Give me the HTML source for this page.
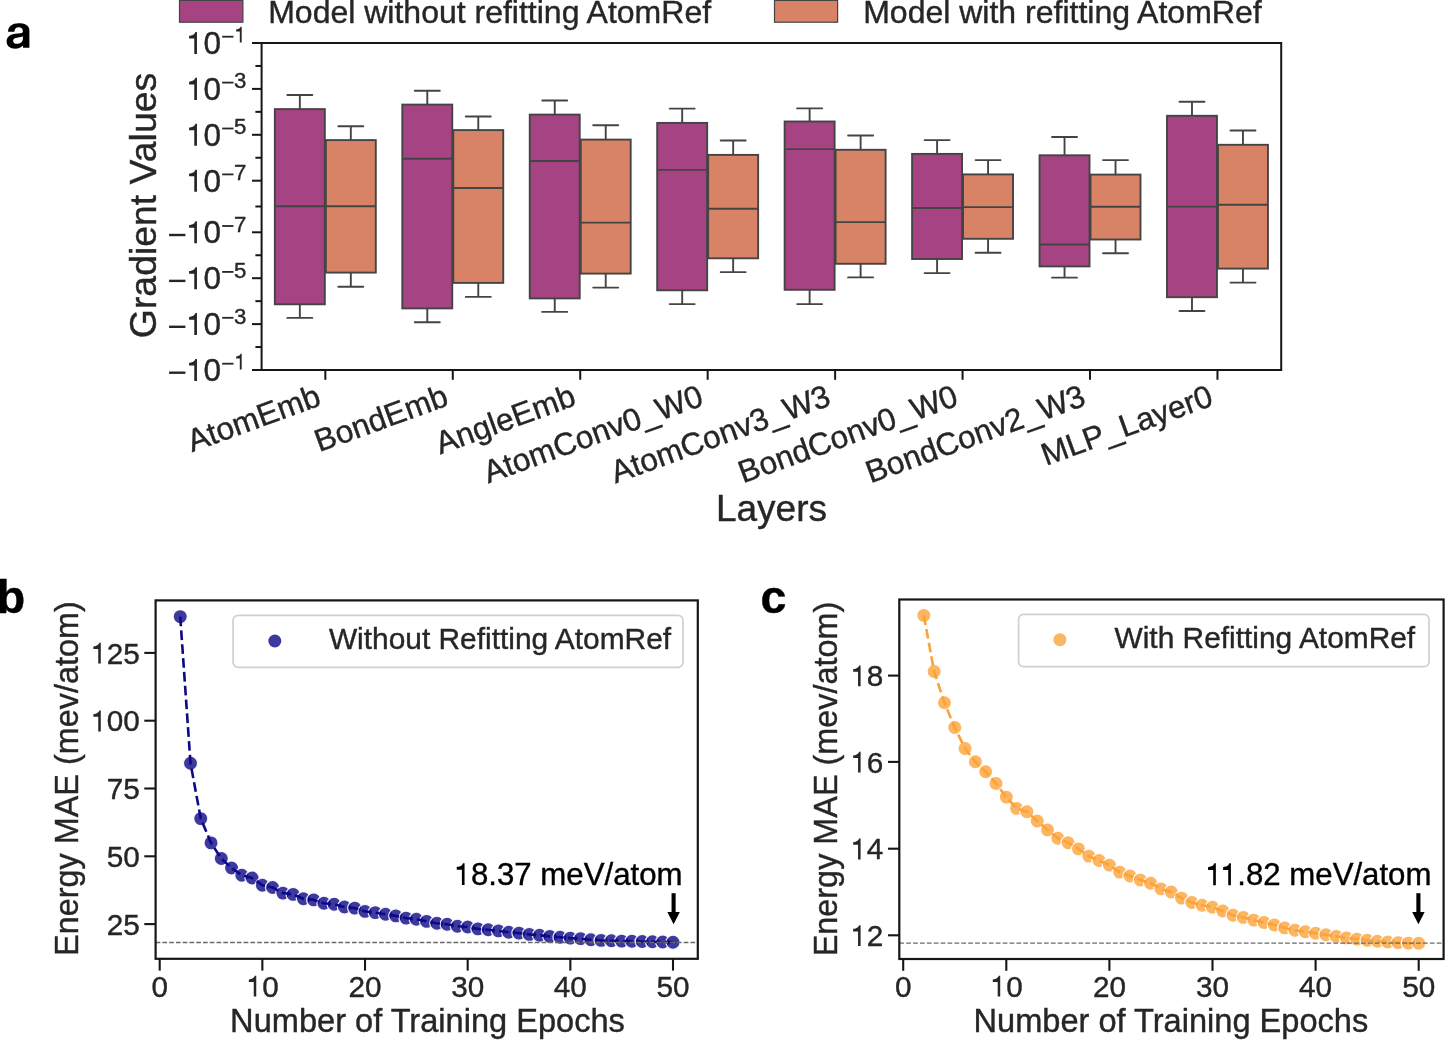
<!DOCTYPE html>
<html><head><meta charset="utf-8"><title>Figure</title>
<style>
html,body{margin:0;padding:0;background:#fff;width:1450px;height:1049px;overflow:hidden;}
svg{display:block;will-change:transform;}
text{font-family:"Liberation Sans",sans-serif;}
</style></head><body>
<svg width="1450" height="1049" viewBox="0 0 1450 1049">
<rect width="1450" height="1049" fill="#fff"/>
<rect x="179.5" y="0.4" width="63.4" height="21.8" fill="#a64483" stroke="#444" stroke-width="1.2"/>
<text x="268.2" y="22.7" font-size="32" fill="#262626" stroke="#262626" stroke-width="0.4">Model without refitting AtomRef</text>
<rect x="774.5" y="0.4" width="63.1" height="21.8" fill="#d98366" stroke="#444" stroke-width="1.2"/>
<text x="863.2" y="22.7" font-size="32" fill="#262626" stroke="#262626" stroke-width="0.4">Model with refitting AtomRef</text>
<line x1="299.84" y1="95" x2="299.84" y2="109.1" stroke="#444444" stroke-width="1.9"/>
<line x1="299.84" y1="304.3" x2="299.84" y2="317.9" stroke="#444444" stroke-width="1.9"/>
<line x1="287.34" y1="95" x2="312.33" y2="95" stroke="#444444" stroke-width="1.9" stroke-linecap="round"/>
<line x1="287.34" y1="317.9" x2="312.33" y2="317.9" stroke="#444444" stroke-width="1.9" stroke-linecap="round"/>
<rect x="274.85" y="109.1" width="49.96" height="195.2" fill="#a64483" stroke="#444444" stroke-width="1.9"/>
<line x1="274.85" y1="206.3" x2="324.82" y2="206.3" stroke="#444444" stroke-width="1.9"/>
<line x1="350.82" y1="126.2" x2="350.82" y2="140.1" stroke="#444444" stroke-width="1.9"/>
<line x1="350.82" y1="272.6" x2="350.82" y2="286.7" stroke="#444444" stroke-width="1.9"/>
<line x1="338.32" y1="126.2" x2="363.31" y2="126.2" stroke="#444444" stroke-width="1.9" stroke-linecap="round"/>
<line x1="338.32" y1="286.7" x2="363.31" y2="286.7" stroke="#444444" stroke-width="1.9" stroke-linecap="round"/>
<rect x="325.83" y="140.1" width="49.96" height="132.5" fill="#d98366" stroke="#444444" stroke-width="1.9"/>
<line x1="325.83" y1="206.3" x2="375.8" y2="206.3" stroke="#444444" stroke-width="1.9"/>
<line x1="427.29" y1="90.7" x2="427.29" y2="104.6" stroke="#444444" stroke-width="1.9"/>
<line x1="427.29" y1="308.4" x2="427.29" y2="322.2" stroke="#444444" stroke-width="1.9"/>
<line x1="414.79" y1="90.7" x2="439.78" y2="90.7" stroke="#444444" stroke-width="1.9" stroke-linecap="round"/>
<line x1="414.79" y1="322.2" x2="439.78" y2="322.2" stroke="#444444" stroke-width="1.9" stroke-linecap="round"/>
<rect x="402.3" y="104.6" width="49.96" height="203.8" fill="#a64483" stroke="#444444" stroke-width="1.9"/>
<line x1="402.3" y1="158.7" x2="452.27" y2="158.7" stroke="#444444" stroke-width="1.9"/>
<line x1="478.27" y1="116.5" x2="478.27" y2="130.1" stroke="#444444" stroke-width="1.9"/>
<line x1="478.27" y1="282.9" x2="478.27" y2="296.9" stroke="#444444" stroke-width="1.9"/>
<line x1="465.77" y1="116.5" x2="490.76" y2="116.5" stroke="#444444" stroke-width="1.9" stroke-linecap="round"/>
<line x1="465.77" y1="296.9" x2="490.76" y2="296.9" stroke="#444444" stroke-width="1.9" stroke-linecap="round"/>
<rect x="453.28" y="130.1" width="49.96" height="152.8" fill="#d98366" stroke="#444444" stroke-width="1.9"/>
<line x1="453.28" y1="188" x2="503.25" y2="188" stroke="#444444" stroke-width="1.9"/>
<line x1="554.74" y1="100.5" x2="554.74" y2="114.6" stroke="#444444" stroke-width="1.9"/>
<line x1="554.74" y1="298.4" x2="554.74" y2="311.9" stroke="#444444" stroke-width="1.9"/>
<line x1="542.24" y1="100.5" x2="567.23" y2="100.5" stroke="#444444" stroke-width="1.9" stroke-linecap="round"/>
<line x1="542.24" y1="311.9" x2="567.23" y2="311.9" stroke="#444444" stroke-width="1.9" stroke-linecap="round"/>
<rect x="529.75" y="114.6" width="49.96" height="183.8" fill="#a64483" stroke="#444444" stroke-width="1.9"/>
<line x1="529.75" y1="161" x2="579.72" y2="161" stroke="#444444" stroke-width="1.9"/>
<line x1="605.72" y1="125.3" x2="605.72" y2="139.6" stroke="#444444" stroke-width="1.9"/>
<line x1="605.72" y1="273.6" x2="605.72" y2="287.6" stroke="#444444" stroke-width="1.9"/>
<line x1="593.22" y1="125.3" x2="618.21" y2="125.3" stroke="#444444" stroke-width="1.9" stroke-linecap="round"/>
<line x1="593.22" y1="287.6" x2="618.21" y2="287.6" stroke="#444444" stroke-width="1.9" stroke-linecap="round"/>
<rect x="580.73" y="139.6" width="49.96" height="134" fill="#d98366" stroke="#444444" stroke-width="1.9"/>
<line x1="580.73" y1="222.6" x2="630.7" y2="222.6" stroke="#444444" stroke-width="1.9"/>
<line x1="682.18" y1="108.6" x2="682.18" y2="122.9" stroke="#444444" stroke-width="1.9"/>
<line x1="682.18" y1="290.3" x2="682.18" y2="304.1" stroke="#444444" stroke-width="1.9"/>
<line x1="669.69" y1="108.6" x2="694.68" y2="108.6" stroke="#444444" stroke-width="1.9" stroke-linecap="round"/>
<line x1="669.69" y1="304.1" x2="694.68" y2="304.1" stroke="#444444" stroke-width="1.9" stroke-linecap="round"/>
<rect x="657.2" y="122.9" width="49.96" height="167.4" fill="#a64483" stroke="#444444" stroke-width="1.9"/>
<line x1="657.2" y1="169.9" x2="707.17" y2="169.9" stroke="#444444" stroke-width="1.9"/>
<line x1="733.16" y1="140.5" x2="733.16" y2="154.9" stroke="#444444" stroke-width="1.9"/>
<line x1="733.16" y1="258.3" x2="733.16" y2="272.1" stroke="#444444" stroke-width="1.9"/>
<line x1="720.67" y1="140.5" x2="745.66" y2="140.5" stroke="#444444" stroke-width="1.9" stroke-linecap="round"/>
<line x1="720.67" y1="272.1" x2="745.66" y2="272.1" stroke="#444444" stroke-width="1.9" stroke-linecap="round"/>
<rect x="708.18" y="154.9" width="49.96" height="103.4" fill="#d98366" stroke="#444444" stroke-width="1.9"/>
<line x1="708.18" y1="208.7" x2="758.15" y2="208.7" stroke="#444444" stroke-width="1.9"/>
<line x1="809.63" y1="108.4" x2="809.63" y2="121.5" stroke="#444444" stroke-width="1.9"/>
<line x1="809.63" y1="289.8" x2="809.63" y2="304.1" stroke="#444444" stroke-width="1.9"/>
<line x1="797.14" y1="108.4" x2="822.13" y2="108.4" stroke="#444444" stroke-width="1.9" stroke-linecap="round"/>
<line x1="797.14" y1="304.1" x2="822.13" y2="304.1" stroke="#444444" stroke-width="1.9" stroke-linecap="round"/>
<rect x="784.65" y="121.5" width="49.96" height="168.3" fill="#a64483" stroke="#444444" stroke-width="1.9"/>
<line x1="784.65" y1="149.1" x2="834.62" y2="149.1" stroke="#444444" stroke-width="1.9"/>
<line x1="860.62" y1="135.5" x2="860.62" y2="149.8" stroke="#444444" stroke-width="1.9"/>
<line x1="860.62" y1="263.8" x2="860.62" y2="277.4" stroke="#444444" stroke-width="1.9"/>
<line x1="848.12" y1="135.5" x2="873.11" y2="135.5" stroke="#444444" stroke-width="1.9" stroke-linecap="round"/>
<line x1="848.12" y1="277.4" x2="873.11" y2="277.4" stroke="#444444" stroke-width="1.9" stroke-linecap="round"/>
<rect x="835.63" y="149.8" width="49.96" height="114" fill="#d98366" stroke="#444444" stroke-width="1.9"/>
<line x1="835.63" y1="222.1" x2="885.6" y2="222.1" stroke="#444444" stroke-width="1.9"/>
<line x1="937.09" y1="140.1" x2="937.09" y2="153.9" stroke="#444444" stroke-width="1.9"/>
<line x1="937.09" y1="259" x2="937.09" y2="273.1" stroke="#444444" stroke-width="1.9"/>
<line x1="924.59" y1="140.1" x2="949.58" y2="140.1" stroke="#444444" stroke-width="1.9" stroke-linecap="round"/>
<line x1="924.59" y1="273.1" x2="949.58" y2="273.1" stroke="#444444" stroke-width="1.9" stroke-linecap="round"/>
<rect x="912.1" y="153.9" width="49.96" height="105.1" fill="#a64483" stroke="#444444" stroke-width="1.9"/>
<line x1="912.1" y1="208" x2="962.07" y2="208" stroke="#444444" stroke-width="1.9"/>
<line x1="988.07" y1="160.1" x2="988.07" y2="174.4" stroke="#444444" stroke-width="1.9"/>
<line x1="988.07" y1="238.8" x2="988.07" y2="252.8" stroke="#444444" stroke-width="1.9"/>
<line x1="975.57" y1="160.1" x2="1000.56" y2="160.1" stroke="#444444" stroke-width="1.9" stroke-linecap="round"/>
<line x1="975.57" y1="252.8" x2="1000.56" y2="252.8" stroke="#444444" stroke-width="1.9" stroke-linecap="round"/>
<rect x="963.08" y="174.4" width="49.96" height="64.4" fill="#d98366" stroke="#444444" stroke-width="1.9"/>
<line x1="963.08" y1="207.1" x2="1013.05" y2="207.1" stroke="#444444" stroke-width="1.9"/>
<line x1="1064.54" y1="137" x2="1064.54" y2="155.3" stroke="#444444" stroke-width="1.9"/>
<line x1="1064.54" y1="266.4" x2="1064.54" y2="277.6" stroke="#444444" stroke-width="1.9"/>
<line x1="1052.04" y1="137" x2="1077.03" y2="137" stroke="#444444" stroke-width="1.9" stroke-linecap="round"/>
<line x1="1052.04" y1="277.6" x2="1077.03" y2="277.6" stroke="#444444" stroke-width="1.9" stroke-linecap="round"/>
<rect x="1039.55" y="155.3" width="49.96" height="111.1" fill="#a64483" stroke="#444444" stroke-width="1.9"/>
<line x1="1039.55" y1="244.5" x2="1089.52" y2="244.5" stroke="#444444" stroke-width="1.9"/>
<line x1="1115.52" y1="160.1" x2="1115.52" y2="174.6" stroke="#444444" stroke-width="1.9"/>
<line x1="1115.52" y1="239.5" x2="1115.52" y2="253.3" stroke="#444444" stroke-width="1.9"/>
<line x1="1103.02" y1="160.1" x2="1128.01" y2="160.1" stroke="#444444" stroke-width="1.9" stroke-linecap="round"/>
<line x1="1103.02" y1="253.3" x2="1128.01" y2="253.3" stroke="#444444" stroke-width="1.9" stroke-linecap="round"/>
<rect x="1090.53" y="174.6" width="49.96" height="64.9" fill="#d98366" stroke="#444444" stroke-width="1.9"/>
<line x1="1090.53" y1="206.8" x2="1140.5" y2="206.8" stroke="#444444" stroke-width="1.9"/>
<line x1="1191.98" y1="101.7" x2="1191.98" y2="115.8" stroke="#444444" stroke-width="1.9"/>
<line x1="1191.98" y1="297.2" x2="1191.98" y2="311" stroke="#444444" stroke-width="1.9"/>
<line x1="1179.49" y1="101.7" x2="1204.48" y2="101.7" stroke="#444444" stroke-width="1.9" stroke-linecap="round"/>
<line x1="1179.49" y1="311" x2="1204.48" y2="311" stroke="#444444" stroke-width="1.9" stroke-linecap="round"/>
<rect x="1167" y="115.8" width="49.96" height="181.4" fill="#a64483" stroke="#444444" stroke-width="1.9"/>
<line x1="1167" y1="206.6" x2="1216.97" y2="206.6" stroke="#444444" stroke-width="1.9"/>
<line x1="1242.96" y1="130.5" x2="1242.96" y2="144.8" stroke="#444444" stroke-width="1.9"/>
<line x1="1242.96" y1="268.6" x2="1242.96" y2="282.6" stroke="#444444" stroke-width="1.9"/>
<line x1="1230.47" y1="130.5" x2="1255.46" y2="130.5" stroke="#444444" stroke-width="1.9" stroke-linecap="round"/>
<line x1="1230.47" y1="282.6" x2="1255.46" y2="282.6" stroke="#444444" stroke-width="1.9" stroke-linecap="round"/>
<rect x="1217.98" y="144.8" width="49.96" height="123.8" fill="#d98366" stroke="#444444" stroke-width="1.9"/>
<line x1="1217.98" y1="204.7" x2="1267.95" y2="204.7" stroke="#444444" stroke-width="1.9"/>
<rect x="261.6" y="43" width="1019.6" height="327" fill="none" stroke="#161616" stroke-width="2" stroke-linejoin="miter"/>
<line x1="252" y1="43" x2="261.6" y2="43" stroke="#161616" stroke-width="2"/>
<path d="M0.351 0L0.351 0.70L0.300 0.70C0.283 0.640 0.235 0.592 0.101 0.578L0.101 0.490L0.266 0.490L0.266 0Z" transform="translate(185.9 54) scale(31.5 -31.5)" fill="#262626"/>
<text x="203.42" y="54" font-size="31.5" fill="#262626" stroke="#262626" stroke-width="0.4">0</text>
<rect x="222.2" y="35.8" width="11.3" height="1.8" fill="#262626"/>
<path d="M0.351 0L0.351 0.70L0.300 0.70C0.283 0.640 0.235 0.592 0.101 0.578L0.101 0.490L0.266 0.490L0.266 0Z" transform="translate(233.9 42.4) scale(22.2 -22.2)" fill="#262626"/>
<line x1="252" y1="370" x2="261.6" y2="370" stroke="#161616" stroke-width="2"/>
<rect x="169.1" y="371.5" width="16.3" height="2.4" fill="#262626"/>
<path d="M0.351 0L0.351 0.70L0.300 0.70C0.283 0.640 0.235 0.592 0.101 0.578L0.101 0.490L0.266 0.490L0.266 0Z" transform="translate(185.9 381) scale(31.5 -31.5)" fill="#262626"/>
<text x="203.42" y="381" font-size="31.5" fill="#262626" stroke="#262626" stroke-width="0.4">0</text>
<rect x="222.2" y="362.8" width="11.3" height="1.8" fill="#262626"/>
<path d="M0.351 0L0.351 0.70L0.300 0.70C0.283 0.640 0.235 0.592 0.101 0.578L0.101 0.490L0.266 0.490L0.266 0Z" transform="translate(233.9 369.4) scale(22.2 -22.2)" fill="#262626"/>
<line x1="252" y1="88.9" x2="261.6" y2="88.9" stroke="#161616" stroke-width="2"/>
<path d="M0.351 0L0.351 0.70L0.300 0.70C0.283 0.640 0.235 0.592 0.101 0.578L0.101 0.490L0.266 0.490L0.266 0Z" transform="translate(185.9 99.9) scale(31.5 -31.5)" fill="#262626"/>
<text x="203.42" y="99.9" font-size="31.5" fill="#262626" stroke="#262626" stroke-width="0.4">0</text>
<rect x="222.2" y="81.7" width="11.3" height="1.8" fill="#262626"/>
<text x="233.9" y="88.3" font-size="22.2" fill="#262626" stroke="#262626" stroke-width="0.4">3</text>
<line x1="252" y1="324.1" x2="261.6" y2="324.1" stroke="#161616" stroke-width="2"/>
<rect x="169.1" y="325.6" width="16.3" height="2.4" fill="#262626"/>
<path d="M0.351 0L0.351 0.70L0.300 0.70C0.283 0.640 0.235 0.592 0.101 0.578L0.101 0.490L0.266 0.490L0.266 0Z" transform="translate(185.9 335.1) scale(31.5 -31.5)" fill="#262626"/>
<text x="203.42" y="335.1" font-size="31.5" fill="#262626" stroke="#262626" stroke-width="0.4">0</text>
<rect x="222.2" y="316.9" width="11.3" height="1.8" fill="#262626"/>
<text x="233.9" y="323.5" font-size="22.2" fill="#262626" stroke="#262626" stroke-width="0.4">3</text>
<line x1="252" y1="134.8" x2="261.6" y2="134.8" stroke="#161616" stroke-width="2"/>
<path d="M0.351 0L0.351 0.70L0.300 0.70C0.283 0.640 0.235 0.592 0.101 0.578L0.101 0.490L0.266 0.490L0.266 0Z" transform="translate(185.9 145.8) scale(31.5 -31.5)" fill="#262626"/>
<text x="203.42" y="145.8" font-size="31.5" fill="#262626" stroke="#262626" stroke-width="0.4">0</text>
<rect x="222.2" y="127.6" width="11.3" height="1.8" fill="#262626"/>
<text x="233.9" y="134.2" font-size="22.2" fill="#262626" stroke="#262626" stroke-width="0.4">5</text>
<line x1="252" y1="278.2" x2="261.6" y2="278.2" stroke="#161616" stroke-width="2"/>
<rect x="169.1" y="279.7" width="16.3" height="2.4" fill="#262626"/>
<path d="M0.351 0L0.351 0.70L0.300 0.70C0.283 0.640 0.235 0.592 0.101 0.578L0.101 0.490L0.266 0.490L0.266 0Z" transform="translate(185.9 289.2) scale(31.5 -31.5)" fill="#262626"/>
<text x="203.42" y="289.2" font-size="31.5" fill="#262626" stroke="#262626" stroke-width="0.4">0</text>
<rect x="222.2" y="271" width="11.3" height="1.8" fill="#262626"/>
<text x="233.9" y="277.6" font-size="22.2" fill="#262626" stroke="#262626" stroke-width="0.4">5</text>
<line x1="252" y1="180.7" x2="261.6" y2="180.7" stroke="#161616" stroke-width="2"/>
<path d="M0.351 0L0.351 0.70L0.300 0.70C0.283 0.640 0.235 0.592 0.101 0.578L0.101 0.490L0.266 0.490L0.266 0Z" transform="translate(185.9 191.7) scale(31.5 -31.5)" fill="#262626"/>
<text x="203.42" y="191.7" font-size="31.5" fill="#262626" stroke="#262626" stroke-width="0.4">0</text>
<rect x="222.2" y="173.5" width="11.3" height="1.8" fill="#262626"/>
<text x="233.9" y="180.1" font-size="22.2" fill="#262626" stroke="#262626" stroke-width="0.4">7</text>
<line x1="252" y1="232.3" x2="261.6" y2="232.3" stroke="#161616" stroke-width="2"/>
<rect x="169.1" y="233.8" width="16.3" height="2.4" fill="#262626"/>
<path d="M0.351 0L0.351 0.70L0.300 0.70C0.283 0.640 0.235 0.592 0.101 0.578L0.101 0.490L0.266 0.490L0.266 0Z" transform="translate(185.9 243.3) scale(31.5 -31.5)" fill="#262626"/>
<text x="203.42" y="243.3" font-size="31.5" fill="#262626" stroke="#262626" stroke-width="0.4">0</text>
<rect x="222.2" y="225.1" width="11.3" height="1.8" fill="#262626"/>
<text x="233.9" y="231.7" font-size="22.2" fill="#262626" stroke="#262626" stroke-width="0.4">7</text>
<line x1="255.4" y1="65.95" x2="261.6" y2="65.95" stroke="#161616" stroke-width="2"/>
<line x1="255.4" y1="111.85" x2="261.6" y2="111.85" stroke="#161616" stroke-width="2"/>
<line x1="255.4" y1="157.75" x2="261.6" y2="157.75" stroke="#161616" stroke-width="2"/>
<line x1="255.4" y1="206.5" x2="261.6" y2="206.5" stroke="#161616" stroke-width="2"/>
<line x1="255.4" y1="255.25" x2="261.6" y2="255.25" stroke="#161616" stroke-width="2"/>
<line x1="255.4" y1="301.15" x2="261.6" y2="301.15" stroke="#161616" stroke-width="2"/>
<line x1="255.4" y1="347.05" x2="261.6" y2="347.05" stroke="#161616" stroke-width="2"/>
<line x1="325.33" y1="370" x2="325.33" y2="379.8" stroke="#161616" stroke-width="2"/>
<text x="322.63" y="404.6" font-size="31.7" fill="#262626" text-anchor="end" transform="rotate(-20 322.63 404.6)" stroke="#262626" stroke-width="0.4">AtomEmb</text>
<line x1="452.78" y1="370" x2="452.78" y2="379.8" stroke="#161616" stroke-width="2"/>
<text x="450.08" y="404.6" font-size="31.7" fill="#262626" text-anchor="end" transform="rotate(-20 450.08 404.6)" stroke="#262626" stroke-width="0.4">BondEmb</text>
<line x1="580.23" y1="370" x2="580.23" y2="379.8" stroke="#161616" stroke-width="2"/>
<text x="577.52" y="404.6" font-size="31.7" fill="#262626" text-anchor="end" transform="rotate(-20 577.52 404.6)" stroke="#262626" stroke-width="0.4">AngleEmb</text>
<line x1="707.67" y1="370" x2="707.67" y2="379.8" stroke="#161616" stroke-width="2"/>
<text x="704.97" y="404.6" font-size="31.7" fill="#262626" text-anchor="end" transform="rotate(-20 704.97 404.6)" stroke="#262626" stroke-width="0.4">AtomConv0_W0</text>
<line x1="835.12" y1="370" x2="835.12" y2="379.8" stroke="#161616" stroke-width="2"/>
<text x="832.42" y="404.6" font-size="31.7" fill="#262626" text-anchor="end" transform="rotate(-20 832.42 404.6)" stroke="#262626" stroke-width="0.4">AtomConv3_W3</text>
<line x1="962.58" y1="370" x2="962.58" y2="379.8" stroke="#161616" stroke-width="2"/>
<text x="959.88" y="404.6" font-size="31.7" fill="#262626" text-anchor="end" transform="rotate(-20 959.88 404.6)" stroke="#262626" stroke-width="0.4">BondConv0_W0</text>
<line x1="1090.03" y1="370" x2="1090.03" y2="379.8" stroke="#161616" stroke-width="2"/>
<text x="1087.33" y="404.6" font-size="31.7" fill="#262626" text-anchor="end" transform="rotate(-20 1087.33 404.6)" stroke="#262626" stroke-width="0.4">BondConv2_W3</text>
<line x1="1217.47" y1="370" x2="1217.47" y2="379.8" stroke="#161616" stroke-width="2"/>
<text x="1214.77" y="404.6" font-size="31.7" fill="#262626" text-anchor="end" transform="rotate(-20 1214.77 404.6)" stroke="#262626" stroke-width="0.4">MLP_Layer0</text>
<text x="771.5" y="520.9" font-size="37" fill="#262626" text-anchor="middle" stroke="#262626" stroke-width="0.4">Layers</text>
<text x="156" y="205.5" font-size="37.4" fill="#262626" text-anchor="middle" transform="rotate(-90 156 205.5)" stroke="#262626" stroke-width="0.4">Gradient Values</text>
<path fill="#000" fill-rule="evenodd" d="M29.4 47.8L23 47.8L22.9 45.6C21.2 47.6 18.6 48.7 15.2 48.7C10 48.7 6.6 45.9 6.6 41.5C6.6 36.4 10.6 34.4 15.5 33.8L20.4 33.2C22.1 33 22.9 32.5 22.9 31.2C22.9 28.8 21.1 27.3 18.6 27.3C15.9 27.3 14.6 28.9 14.4 31.8L8 31.8C8.2 26.1 12.5 23.2 18.6 23.2C24 23.2 29.4 24.8 29.4 30.5ZM22.9 36.3C21.8 36.9 19.9 37.1 17.9 37.4C14.9 37.8 13.1 38.6 13.1 40.7C13.1 42.6 14.6 43.8 16.7 43.8C20.2 43.8 22.9 41.8 22.9 38.4Z"/>
<circle cx="180.23" cy="616.6" r="7.1" fill="#0d0887" fill-opacity="0.8" stroke="#fff" stroke-opacity="0.9" stroke-width="1.3"/>
<circle cx="190.5" cy="763.2" r="7.1" fill="#0d0887" fill-opacity="0.8" stroke="#fff" stroke-opacity="0.9" stroke-width="1.3"/>
<circle cx="200.76" cy="818.6" r="7.1" fill="#0d0887" fill-opacity="0.8" stroke="#fff" stroke-opacity="0.9" stroke-width="1.3"/>
<circle cx="211.03" cy="842.9" r="7.1" fill="#0d0887" fill-opacity="0.8" stroke="#fff" stroke-opacity="0.9" stroke-width="1.3"/>
<circle cx="221.3" cy="858.5" r="7.1" fill="#0d0887" fill-opacity="0.8" stroke="#fff" stroke-opacity="0.9" stroke-width="1.3"/>
<circle cx="231.56" cy="868" r="7.1" fill="#0d0887" fill-opacity="0.8" stroke="#fff" stroke-opacity="0.9" stroke-width="1.3"/>
<circle cx="241.83" cy="875.2" r="7.1" fill="#0d0887" fill-opacity="0.8" stroke="#fff" stroke-opacity="0.9" stroke-width="1.3"/>
<circle cx="252.09" cy="878" r="7.1" fill="#0d0887" fill-opacity="0.8" stroke="#fff" stroke-opacity="0.9" stroke-width="1.3"/>
<circle cx="262.36" cy="885.2" r="7.1" fill="#0d0887" fill-opacity="0.8" stroke="#fff" stroke-opacity="0.9" stroke-width="1.3"/>
<circle cx="272.63" cy="887.5" r="7.1" fill="#0d0887" fill-opacity="0.8" stroke="#fff" stroke-opacity="0.9" stroke-width="1.3"/>
<circle cx="282.89" cy="893.1" r="7.1" fill="#0d0887" fill-opacity="0.8" stroke="#fff" stroke-opacity="0.9" stroke-width="1.3"/>
<circle cx="293.16" cy="894.4" r="7.1" fill="#0d0887" fill-opacity="0.8" stroke="#fff" stroke-opacity="0.9" stroke-width="1.3"/>
<circle cx="303.42" cy="898.8" r="7.1" fill="#0d0887" fill-opacity="0.8" stroke="#fff" stroke-opacity="0.9" stroke-width="1.3"/>
<circle cx="313.69" cy="899.9" r="7.1" fill="#0d0887" fill-opacity="0.8" stroke="#fff" stroke-opacity="0.9" stroke-width="1.3"/>
<circle cx="323.96" cy="903.2" r="7.1" fill="#0d0887" fill-opacity="0.8" stroke="#fff" stroke-opacity="0.9" stroke-width="1.3"/>
<circle cx="334.22" cy="904.3" r="7.1" fill="#0d0887" fill-opacity="0.8" stroke="#fff" stroke-opacity="0.9" stroke-width="1.3"/>
<circle cx="344.49" cy="907" r="7.1" fill="#0d0887" fill-opacity="0.8" stroke="#fff" stroke-opacity="0.9" stroke-width="1.3"/>
<circle cx="354.75" cy="908.1" r="7.1" fill="#0d0887" fill-opacity="0.8" stroke="#fff" stroke-opacity="0.9" stroke-width="1.3"/>
<circle cx="365.02" cy="911.4" r="7.1" fill="#0d0887" fill-opacity="0.8" stroke="#fff" stroke-opacity="0.9" stroke-width="1.3"/>
<circle cx="375.29" cy="912.6" r="7.1" fill="#0d0887" fill-opacity="0.8" stroke="#fff" stroke-opacity="0.9" stroke-width="1.3"/>
<circle cx="385.55" cy="914.2" r="7.1" fill="#0d0887" fill-opacity="0.8" stroke="#fff" stroke-opacity="0.9" stroke-width="1.3"/>
<circle cx="395.82" cy="915.9" r="7.1" fill="#0d0887" fill-opacity="0.8" stroke="#fff" stroke-opacity="0.9" stroke-width="1.3"/>
<circle cx="406.08" cy="918.1" r="7.1" fill="#0d0887" fill-opacity="0.8" stroke="#fff" stroke-opacity="0.9" stroke-width="1.3"/>
<circle cx="416.35" cy="919.2" r="7.1" fill="#0d0887" fill-opacity="0.8" stroke="#fff" stroke-opacity="0.9" stroke-width="1.3"/>
<circle cx="426.62" cy="921.4" r="7.1" fill="#0d0887" fill-opacity="0.8" stroke="#fff" stroke-opacity="0.9" stroke-width="1.3"/>
<circle cx="436.88" cy="923.3" r="7.1" fill="#0d0887" fill-opacity="0.8" stroke="#fff" stroke-opacity="0.9" stroke-width="1.3"/>
<circle cx="447.15" cy="924.3" r="7.1" fill="#0d0887" fill-opacity="0.8" stroke="#fff" stroke-opacity="0.9" stroke-width="1.3"/>
<circle cx="457.41" cy="926.3" r="7.1" fill="#0d0887" fill-opacity="0.8" stroke="#fff" stroke-opacity="0.9" stroke-width="1.3"/>
<circle cx="467.68" cy="927" r="7.1" fill="#0d0887" fill-opacity="0.8" stroke="#fff" stroke-opacity="0.9" stroke-width="1.3"/>
<circle cx="477.95" cy="928.9" r="7.1" fill="#0d0887" fill-opacity="0.8" stroke="#fff" stroke-opacity="0.9" stroke-width="1.3"/>
<circle cx="488.21" cy="929.8" r="7.1" fill="#0d0887" fill-opacity="0.8" stroke="#fff" stroke-opacity="0.9" stroke-width="1.3"/>
<circle cx="498.48" cy="930.9" r="7.1" fill="#0d0887" fill-opacity="0.8" stroke="#fff" stroke-opacity="0.9" stroke-width="1.3"/>
<circle cx="508.74" cy="932.2" r="7.1" fill="#0d0887" fill-opacity="0.8" stroke="#fff" stroke-opacity="0.9" stroke-width="1.3"/>
<circle cx="519.01" cy="933.1" r="7.1" fill="#0d0887" fill-opacity="0.8" stroke="#fff" stroke-opacity="0.9" stroke-width="1.3"/>
<circle cx="529.28" cy="934.4" r="7.1" fill="#0d0887" fill-opacity="0.8" stroke="#fff" stroke-opacity="0.9" stroke-width="1.3"/>
<circle cx="539.54" cy="935.3" r="7.1" fill="#0d0887" fill-opacity="0.8" stroke="#fff" stroke-opacity="0.9" stroke-width="1.3"/>
<circle cx="549.81" cy="936.4" r="7.1" fill="#0d0887" fill-opacity="0.8" stroke="#fff" stroke-opacity="0.9" stroke-width="1.3"/>
<circle cx="560.07" cy="937.2" r="7.1" fill="#0d0887" fill-opacity="0.8" stroke="#fff" stroke-opacity="0.9" stroke-width="1.3"/>
<circle cx="570.34" cy="938.1" r="7.1" fill="#0d0887" fill-opacity="0.8" stroke="#fff" stroke-opacity="0.9" stroke-width="1.3"/>
<circle cx="580.61" cy="938.6" r="7.1" fill="#0d0887" fill-opacity="0.8" stroke="#fff" stroke-opacity="0.9" stroke-width="1.3"/>
<circle cx="590.87" cy="939.7" r="7.1" fill="#0d0887" fill-opacity="0.8" stroke="#fff" stroke-opacity="0.9" stroke-width="1.3"/>
<circle cx="601.14" cy="940.4" r="7.1" fill="#0d0887" fill-opacity="0.8" stroke="#fff" stroke-opacity="0.9" stroke-width="1.3"/>
<circle cx="611.4" cy="940.7" r="7.1" fill="#0d0887" fill-opacity="0.8" stroke="#fff" stroke-opacity="0.9" stroke-width="1.3"/>
<circle cx="621.67" cy="941.1" r="7.1" fill="#0d0887" fill-opacity="0.8" stroke="#fff" stroke-opacity="0.9" stroke-width="1.3"/>
<circle cx="631.94" cy="941.3" r="7.1" fill="#0d0887" fill-opacity="0.8" stroke="#fff" stroke-opacity="0.9" stroke-width="1.3"/>
<circle cx="642.2" cy="941.5" r="7.1" fill="#0d0887" fill-opacity="0.8" stroke="#fff" stroke-opacity="0.9" stroke-width="1.3"/>
<circle cx="652.47" cy="941.8" r="7.1" fill="#0d0887" fill-opacity="0.8" stroke="#fff" stroke-opacity="0.9" stroke-width="1.3"/>
<circle cx="662.73" cy="942" r="7.1" fill="#0d0887" fill-opacity="0.8" stroke="#fff" stroke-opacity="0.9" stroke-width="1.3"/>
<circle cx="673" cy="942.3" r="7.1" fill="#0d0887" fill-opacity="0.8" stroke="#fff" stroke-opacity="0.9" stroke-width="1.3"/>
<polyline points="180.23,616.6 190.5,763.2 200.76,818.6 211.03,842.9 221.3,858.5 231.56,868 241.83,875.2 252.09,878 262.36,885.2 272.63,887.5 282.89,893.1 293.16,894.4 303.42,898.8 313.69,899.9 323.96,903.2 334.22,904.3 344.49,907 354.75,908.1 365.02,911.4 375.29,912.6 385.55,914.2 395.82,915.9 406.08,918.1 416.35,919.2 426.62,921.4 436.88,923.3 447.15,924.3 457.41,926.3 467.68,927 477.95,928.9 488.21,929.8 498.48,930.9 508.74,932.2 519.01,933.1 529.28,934.4 539.54,935.3 549.81,936.4 560.07,937.2 570.34,938.1 580.61,938.6 590.87,939.7 601.14,940.4 611.4,940.7 621.67,941.1 631.94,941.3 642.2,941.5 652.47,941.8 662.73,942 673,942.3" fill="none" stroke="#0d0887" stroke-width="2.6" stroke-dasharray="9.68 4.18"/>
<line x1="155.6" y1="942.5" x2="697.8" y2="942.5" stroke="#6a6a6a" stroke-width="1.3" stroke-dasharray="4.7 2.07"/>
<rect x="155.6" y="600.4" width="542.2" height="358.4" fill="none" stroke="#161616" stroke-width="2.2"/>
<line x1="144.3" y1="924.1" x2="155.6" y2="924.1" stroke="#161616" stroke-width="2.1"/>
<text x="106.86" y="934.8" font-size="29.7" fill="#262626" stroke="#262626" stroke-width="0.4">25</text>
<line x1="144.3" y1="856.3" x2="155.6" y2="856.3" stroke="#161616" stroke-width="2.1"/>
<text x="106.86" y="867" font-size="29.7" fill="#262626" stroke="#262626" stroke-width="0.4">50</text>
<line x1="144.3" y1="788.5" x2="155.6" y2="788.5" stroke="#161616" stroke-width="2.1"/>
<text x="106.86" y="799.2" font-size="29.7" fill="#262626" stroke="#262626" stroke-width="0.4">75</text>
<line x1="144.3" y1="720.7" x2="155.6" y2="720.7" stroke="#161616" stroke-width="2.1"/>
<path d="M0.351 0L0.351 0.70L0.300 0.70C0.283 0.640 0.235 0.592 0.101 0.578L0.101 0.490L0.266 0.490L0.266 0Z" transform="translate(90.35 731.4) scale(29.7 -29.7)" fill="#262626"/>
<text x="106.86" y="731.4" font-size="29.7" fill="#262626" stroke="#262626" stroke-width="0.4">00</text>
<line x1="144.3" y1="652.9" x2="155.6" y2="652.9" stroke="#161616" stroke-width="2.1"/>
<path d="M0.351 0L0.351 0.70L0.300 0.70C0.283 0.640 0.235 0.592 0.101 0.578L0.101 0.490L0.266 0.490L0.266 0Z" transform="translate(90.35 663.6) scale(29.7 -29.7)" fill="#262626"/>
<text x="106.86" y="663.6" font-size="29.7" fill="#262626" stroke="#262626" stroke-width="0.4">25</text>
<line x1="159.7" y1="958.8" x2="159.7" y2="970.6" stroke="#161616" stroke-width="2.1"/>
<text x="151.44" y="996.6" font-size="29.7" fill="#262626" stroke="#262626" stroke-width="0.4">0</text>
<line x1="262.36" y1="958.8" x2="262.36" y2="970.6" stroke="#161616" stroke-width="2.1"/>
<path d="M0.351 0L0.351 0.70L0.300 0.70C0.283 0.640 0.235 0.592 0.101 0.578L0.101 0.490L0.266 0.490L0.266 0Z" transform="translate(245.84 996.6) scale(29.7 -29.7)" fill="#262626"/>
<text x="262.36" y="996.6" font-size="29.7" fill="#262626" stroke="#262626" stroke-width="0.4">0</text>
<line x1="365.02" y1="958.8" x2="365.02" y2="970.6" stroke="#161616" stroke-width="2.1"/>
<text x="348.5" y="996.6" font-size="29.7" fill="#262626" stroke="#262626" stroke-width="0.4">20</text>
<line x1="467.68" y1="958.8" x2="467.68" y2="970.6" stroke="#161616" stroke-width="2.1"/>
<text x="451.16" y="996.6" font-size="29.7" fill="#262626" stroke="#262626" stroke-width="0.4">30</text>
<line x1="570.34" y1="958.8" x2="570.34" y2="970.6" stroke="#161616" stroke-width="2.1"/>
<text x="553.82" y="996.6" font-size="29.7" fill="#262626" stroke="#262626" stroke-width="0.4">40</text>
<line x1="673" y1="958.8" x2="673" y2="970.6" stroke="#161616" stroke-width="2.1"/>
<text x="656.48" y="996.6" font-size="29.7" fill="#262626" stroke="#262626" stroke-width="0.4">50</text>
<text x="427.5" y="1031.5" font-size="32.6" fill="#262626" text-anchor="middle" stroke="#262626" stroke-width="0.4">Number of Training Epochs</text>
<text x="77.6" y="778.6" font-size="32.4" fill="#262626" text-anchor="middle" transform="rotate(-90 77.6 778.6)" stroke="#262626" stroke-width="0.4">Energy MAE (mev/atom)</text>
<rect x="233.1" y="615.3" width="449.9" height="52" rx="5" fill="#fff" fill-opacity="0.8" stroke="#cfcfcf" stroke-width="1.7"/>
<circle cx="274.8" cy="641" r="6.5" fill="#0d0887" fill-opacity="0.8"/>
<text x="328.9" y="649.2" font-size="29.9" fill="#262626" stroke="#262626" stroke-width="0.4">Without Refitting AtomRef</text>
<path d="M0.351 0L0.351 0.70L0.300 0.70C0.283 0.640 0.235 0.592 0.101 0.578L0.101 0.490L0.266 0.490L0.266 0Z" transform="translate(453.6 885) scale(31.2 -31.2)" fill="#000"/>
<text x="470.95" y="885" font-size="31.2" fill="#000" stroke="#000" stroke-width="0.4">8.37</text>
<text x="531.68" y="885" font-size="31.2" fill="#000" xml:space="preserve" stroke="#000" stroke-width="0.4"> meV/atom</text>
<rect x="671.55" y="893.2" width="4.1" height="19.3" fill="#000"/>
<polygon points="667.35,912 679.85,912 673.6,924.3" fill="#000"/>
<text x="-3.3" y="613" font-size="46.5" font-weight="bold" fill="#000" stroke="#000" stroke-width="0.4">b</text>
<circle cx="923.82" cy="615.4" r="7.1" fill="#fba238" fill-opacity="0.8" stroke="#fff" stroke-opacity="0.9" stroke-width="1.3"/>
<circle cx="934.13" cy="671.5" r="7.1" fill="#fba238" fill-opacity="0.8" stroke="#fff" stroke-opacity="0.9" stroke-width="1.3"/>
<circle cx="944.44" cy="702.7" r="7.1" fill="#fba238" fill-opacity="0.8" stroke="#fff" stroke-opacity="0.9" stroke-width="1.3"/>
<circle cx="954.75" cy="727.5" r="7.1" fill="#fba238" fill-opacity="0.8" stroke="#fff" stroke-opacity="0.9" stroke-width="1.3"/>
<circle cx="965.06" cy="748.5" r="7.1" fill="#fba238" fill-opacity="0.8" stroke="#fff" stroke-opacity="0.9" stroke-width="1.3"/>
<circle cx="975.37" cy="761.8" r="7.1" fill="#fba238" fill-opacity="0.8" stroke="#fff" stroke-opacity="0.9" stroke-width="1.3"/>
<circle cx="985.68" cy="771.8" r="7.1" fill="#fba238" fill-opacity="0.8" stroke="#fff" stroke-opacity="0.9" stroke-width="1.3"/>
<circle cx="995.99" cy="783.5" r="7.1" fill="#fba238" fill-opacity="0.8" stroke="#fff" stroke-opacity="0.9" stroke-width="1.3"/>
<circle cx="1006.3" cy="797.1" r="7.1" fill="#fba238" fill-opacity="0.8" stroke="#fff" stroke-opacity="0.9" stroke-width="1.3"/>
<circle cx="1016.61" cy="808.4" r="7.1" fill="#fba238" fill-opacity="0.8" stroke="#fff" stroke-opacity="0.9" stroke-width="1.3"/>
<circle cx="1026.92" cy="811.7" r="7.1" fill="#fba238" fill-opacity="0.8" stroke="#fff" stroke-opacity="0.9" stroke-width="1.3"/>
<circle cx="1037.23" cy="821" r="7.1" fill="#fba238" fill-opacity="0.8" stroke="#fff" stroke-opacity="0.9" stroke-width="1.3"/>
<circle cx="1047.54" cy="829.9" r="7.1" fill="#fba238" fill-opacity="0.8" stroke="#fff" stroke-opacity="0.9" stroke-width="1.3"/>
<circle cx="1057.85" cy="838.2" r="7.1" fill="#fba238" fill-opacity="0.8" stroke="#fff" stroke-opacity="0.9" stroke-width="1.3"/>
<circle cx="1068.16" cy="842.8" r="7.1" fill="#fba238" fill-opacity="0.8" stroke="#fff" stroke-opacity="0.9" stroke-width="1.3"/>
<circle cx="1078.47" cy="848.9" r="7.1" fill="#fba238" fill-opacity="0.8" stroke="#fff" stroke-opacity="0.9" stroke-width="1.3"/>
<circle cx="1088.78" cy="856.1" r="7.1" fill="#fba238" fill-opacity="0.8" stroke="#fff" stroke-opacity="0.9" stroke-width="1.3"/>
<circle cx="1099.09" cy="860.5" r="7.1" fill="#fba238" fill-opacity="0.8" stroke="#fff" stroke-opacity="0.9" stroke-width="1.3"/>
<circle cx="1109.4" cy="865.1" r="7.1" fill="#fba238" fill-opacity="0.8" stroke="#fff" stroke-opacity="0.9" stroke-width="1.3"/>
<circle cx="1119.71" cy="872.1" r="7.1" fill="#fba238" fill-opacity="0.8" stroke="#fff" stroke-opacity="0.9" stroke-width="1.3"/>
<circle cx="1130.02" cy="876" r="7.1" fill="#fba238" fill-opacity="0.8" stroke="#fff" stroke-opacity="0.9" stroke-width="1.3"/>
<circle cx="1140.33" cy="880" r="7.1" fill="#fba238" fill-opacity="0.8" stroke="#fff" stroke-opacity="0.9" stroke-width="1.3"/>
<circle cx="1150.64" cy="883.2" r="7.1" fill="#fba238" fill-opacity="0.8" stroke="#fff" stroke-opacity="0.9" stroke-width="1.3"/>
<circle cx="1160.95" cy="888.9" r="7.1" fill="#fba238" fill-opacity="0.8" stroke="#fff" stroke-opacity="0.9" stroke-width="1.3"/>
<circle cx="1171.26" cy="892" r="7.1" fill="#fba238" fill-opacity="0.8" stroke="#fff" stroke-opacity="0.9" stroke-width="1.3"/>
<circle cx="1181.57" cy="898.1" r="7.1" fill="#fba238" fill-opacity="0.8" stroke="#fff" stroke-opacity="0.9" stroke-width="1.3"/>
<circle cx="1191.88" cy="902.5" r="7.1" fill="#fba238" fill-opacity="0.8" stroke="#fff" stroke-opacity="0.9" stroke-width="1.3"/>
<circle cx="1202.19" cy="905.2" r="7.1" fill="#fba238" fill-opacity="0.8" stroke="#fff" stroke-opacity="0.9" stroke-width="1.3"/>
<circle cx="1212.5" cy="907.2" r="7.1" fill="#fba238" fill-opacity="0.8" stroke="#fff" stroke-opacity="0.9" stroke-width="1.3"/>
<circle cx="1222.81" cy="911" r="7.1" fill="#fba238" fill-opacity="0.8" stroke="#fff" stroke-opacity="0.9" stroke-width="1.3"/>
<circle cx="1233.12" cy="915.2" r="7.1" fill="#fba238" fill-opacity="0.8" stroke="#fff" stroke-opacity="0.9" stroke-width="1.3"/>
<circle cx="1243.43" cy="917.4" r="7.1" fill="#fba238" fill-opacity="0.8" stroke="#fff" stroke-opacity="0.9" stroke-width="1.3"/>
<circle cx="1253.74" cy="920.1" r="7.1" fill="#fba238" fill-opacity="0.8" stroke="#fff" stroke-opacity="0.9" stroke-width="1.3"/>
<circle cx="1264.05" cy="922.5" r="7.1" fill="#fba238" fill-opacity="0.8" stroke="#fff" stroke-opacity="0.9" stroke-width="1.3"/>
<circle cx="1274.36" cy="925" r="7.1" fill="#fba238" fill-opacity="0.8" stroke="#fff" stroke-opacity="0.9" stroke-width="1.3"/>
<circle cx="1284.67" cy="927.9" r="7.1" fill="#fba238" fill-opacity="0.8" stroke="#fff" stroke-opacity="0.9" stroke-width="1.3"/>
<circle cx="1294.98" cy="930.2" r="7.1" fill="#fba238" fill-opacity="0.8" stroke="#fff" stroke-opacity="0.9" stroke-width="1.3"/>
<circle cx="1305.29" cy="931.7" r="7.1" fill="#fba238" fill-opacity="0.8" stroke="#fff" stroke-opacity="0.9" stroke-width="1.3"/>
<circle cx="1315.6" cy="933.3" r="7.1" fill="#fba238" fill-opacity="0.8" stroke="#fff" stroke-opacity="0.9" stroke-width="1.3"/>
<circle cx="1325.91" cy="934.8" r="7.1" fill="#fba238" fill-opacity="0.8" stroke="#fff" stroke-opacity="0.9" stroke-width="1.3"/>
<circle cx="1336.22" cy="936.4" r="7.1" fill="#fba238" fill-opacity="0.8" stroke="#fff" stroke-opacity="0.9" stroke-width="1.3"/>
<circle cx="1346.53" cy="937.9" r="7.1" fill="#fba238" fill-opacity="0.8" stroke="#fff" stroke-opacity="0.9" stroke-width="1.3"/>
<circle cx="1356.84" cy="939.1" r="7.1" fill="#fba238" fill-opacity="0.8" stroke="#fff" stroke-opacity="0.9" stroke-width="1.3"/>
<circle cx="1367.15" cy="940.3" r="7.1" fill="#fba238" fill-opacity="0.8" stroke="#fff" stroke-opacity="0.9" stroke-width="1.3"/>
<circle cx="1377.46" cy="941.3" r="7.1" fill="#fba238" fill-opacity="0.8" stroke="#fff" stroke-opacity="0.9" stroke-width="1.3"/>
<circle cx="1387.77" cy="942" r="7.1" fill="#fba238" fill-opacity="0.8" stroke="#fff" stroke-opacity="0.9" stroke-width="1.3"/>
<circle cx="1398.08" cy="942.6" r="7.1" fill="#fba238" fill-opacity="0.8" stroke="#fff" stroke-opacity="0.9" stroke-width="1.3"/>
<circle cx="1408.39" cy="943.1" r="7.1" fill="#fba238" fill-opacity="0.8" stroke="#fff" stroke-opacity="0.9" stroke-width="1.3"/>
<circle cx="1418.7" cy="943.3" r="7.1" fill="#fba238" fill-opacity="0.8" stroke="#fff" stroke-opacity="0.9" stroke-width="1.3"/>
<polyline points="923.82,615.4 934.13,671.5 944.44,702.7 954.75,727.5 965.06,748.5 975.37,761.8 985.68,771.8 995.99,783.5 1006.3,797.1 1016.61,808.4 1026.92,811.7 1037.23,821 1047.54,829.9 1057.85,838.2 1068.16,842.8 1078.47,848.9 1088.78,856.1 1099.09,860.5 1109.4,865.1 1119.71,872.1 1130.02,876 1140.33,880 1150.64,883.2 1160.95,888.9 1171.26,892 1181.57,898.1 1191.88,902.5 1202.19,905.2 1212.5,907.2 1222.81,911 1233.12,915.2 1243.43,917.4 1253.74,920.1 1264.05,922.5 1274.36,925 1284.67,927.9 1294.98,930.2 1305.29,931.7 1315.6,933.3 1325.91,934.8 1336.22,936.4 1346.53,937.9 1356.84,939.1 1367.15,940.3 1377.46,941.3 1387.77,942 1398.08,942.6 1408.39,943.1 1418.7,943.3" fill="none" stroke="#fba238" stroke-width="2.6" stroke-dasharray="9.68 4.18"/>
<line x1="899.3" y1="943.1" x2="1443.6" y2="943.1" stroke="#6a6a6a" stroke-width="1.3" stroke-dasharray="4.75 2.14"/>
<rect x="899.3" y="599.5" width="544.3" height="359.5" fill="none" stroke="#161616" stroke-width="2.2"/>
<line x1="888" y1="935.3" x2="899.3" y2="935.3" stroke="#161616" stroke-width="2.1"/>
<path d="M0.351 0L0.351 0.70L0.300 0.70C0.283 0.640 0.235 0.592 0.101 0.578L0.101 0.490L0.266 0.490L0.266 0Z" transform="translate(850.16 946) scale(29.7 -29.7)" fill="#262626"/>
<text x="866.68" y="946" font-size="29.7" fill="#262626" stroke="#262626" stroke-width="0.4">2</text>
<line x1="888" y1="848.7" x2="899.3" y2="848.7" stroke="#161616" stroke-width="2.1"/>
<path d="M0.351 0L0.351 0.70L0.300 0.70C0.283 0.640 0.235 0.592 0.101 0.578L0.101 0.490L0.266 0.490L0.266 0Z" transform="translate(850.16 859.4) scale(29.7 -29.7)" fill="#262626"/>
<text x="866.68" y="859.4" font-size="29.7" fill="#262626" stroke="#262626" stroke-width="0.4">4</text>
<line x1="888" y1="761.9" x2="899.3" y2="761.9" stroke="#161616" stroke-width="2.1"/>
<path d="M0.351 0L0.351 0.70L0.300 0.70C0.283 0.640 0.235 0.592 0.101 0.578L0.101 0.490L0.266 0.490L0.266 0Z" transform="translate(850.16 772.6) scale(29.7 -29.7)" fill="#262626"/>
<text x="866.68" y="772.6" font-size="29.7" fill="#262626" stroke="#262626" stroke-width="0.4">6</text>
<line x1="888" y1="675.6" x2="899.3" y2="675.6" stroke="#161616" stroke-width="2.1"/>
<path d="M0.351 0L0.351 0.70L0.300 0.70C0.283 0.640 0.235 0.592 0.101 0.578L0.101 0.490L0.266 0.490L0.266 0Z" transform="translate(850.16 686.3) scale(29.7 -29.7)" fill="#262626"/>
<text x="866.68" y="686.3" font-size="29.7" fill="#262626" stroke="#262626" stroke-width="0.4">8</text>
<line x1="903.2" y1="959" x2="903.2" y2="970.8" stroke="#161616" stroke-width="2.1"/>
<text x="894.94" y="996.6" font-size="29.7" fill="#262626" stroke="#262626" stroke-width="0.4">0</text>
<line x1="1006.3" y1="959" x2="1006.3" y2="970.8" stroke="#161616" stroke-width="2.1"/>
<path d="M0.351 0L0.351 0.70L0.300 0.70C0.283 0.640 0.235 0.592 0.101 0.578L0.101 0.490L0.266 0.490L0.266 0Z" transform="translate(989.78 996.6) scale(29.7 -29.7)" fill="#262626"/>
<text x="1006.3" y="996.6" font-size="29.7" fill="#262626" stroke="#262626" stroke-width="0.4">0</text>
<line x1="1109.4" y1="959" x2="1109.4" y2="970.8" stroke="#161616" stroke-width="2.1"/>
<text x="1092.88" y="996.6" font-size="29.7" fill="#262626" stroke="#262626" stroke-width="0.4">20</text>
<line x1="1212.5" y1="959" x2="1212.5" y2="970.8" stroke="#161616" stroke-width="2.1"/>
<text x="1195.98" y="996.6" font-size="29.7" fill="#262626" stroke="#262626" stroke-width="0.4">30</text>
<line x1="1315.6" y1="959" x2="1315.6" y2="970.8" stroke="#161616" stroke-width="2.1"/>
<text x="1299.08" y="996.6" font-size="29.7" fill="#262626" stroke="#262626" stroke-width="0.4">40</text>
<line x1="1418.7" y1="959" x2="1418.7" y2="970.8" stroke="#161616" stroke-width="2.1"/>
<text x="1402.18" y="996.6" font-size="29.7" fill="#262626" stroke="#262626" stroke-width="0.4">50</text>
<text x="1170.9" y="1031.5" font-size="32.6" fill="#262626" text-anchor="middle" stroke="#262626" stroke-width="0.4">Number of Training Epochs</text>
<text x="837.1" y="779" font-size="32.4" fill="#262626" text-anchor="middle" transform="rotate(-90 837.1 779)" stroke="#262626" stroke-width="0.4">Energy MAE (mev/atom)</text>
<rect x="1018.55" y="614.4" width="410.45" height="52.3" rx="5" fill="#fff" fill-opacity="0.8" stroke="#cfcfcf" stroke-width="1.7"/>
<circle cx="1059.9" cy="639.7" r="6.5" fill="#fba238" fill-opacity="0.8"/>
<text x="1114.5" y="648.1" font-size="29.9" fill="#262626" stroke="#262626" stroke-width="0.4">With Refitting AtomRef</text>
<path d="M0.351 0L0.351 0.70L0.300 0.70C0.283 0.640 0.235 0.592 0.101 0.578L0.101 0.490L0.266 0.490L0.266 0Z" transform="translate(1204.9 885.2) scale(31.2 -31.2)" fill="#000"/>
<path d="M0.351 0L0.351 0.70L0.300 0.70C0.283 0.640 0.235 0.592 0.101 0.578L0.101 0.490L0.266 0.490L0.266 0Z" transform="translate(1219.94 885.2) scale(31.2 -31.2)" fill="#000"/>
<text x="1237.29" y="885.2" font-size="31.2" fill="#000" stroke="#000" stroke-width="0.4">.82</text>
<text x="1280.66" y="885.2" font-size="31.2" fill="#000" xml:space="preserve" stroke="#000" stroke-width="0.4"> meV/atom</text>
<rect x="1416.35" y="893.2" width="4.1" height="19.3" fill="#000"/>
<polygon points="1412.15,912 1424.65,912 1418.4,924.3" fill="#000"/>
<text x="760.6" y="612.5" font-size="46.5" font-weight="bold" fill="#000" stroke="#000" stroke-width="0.4">c</text>
</svg>
</body></html>
